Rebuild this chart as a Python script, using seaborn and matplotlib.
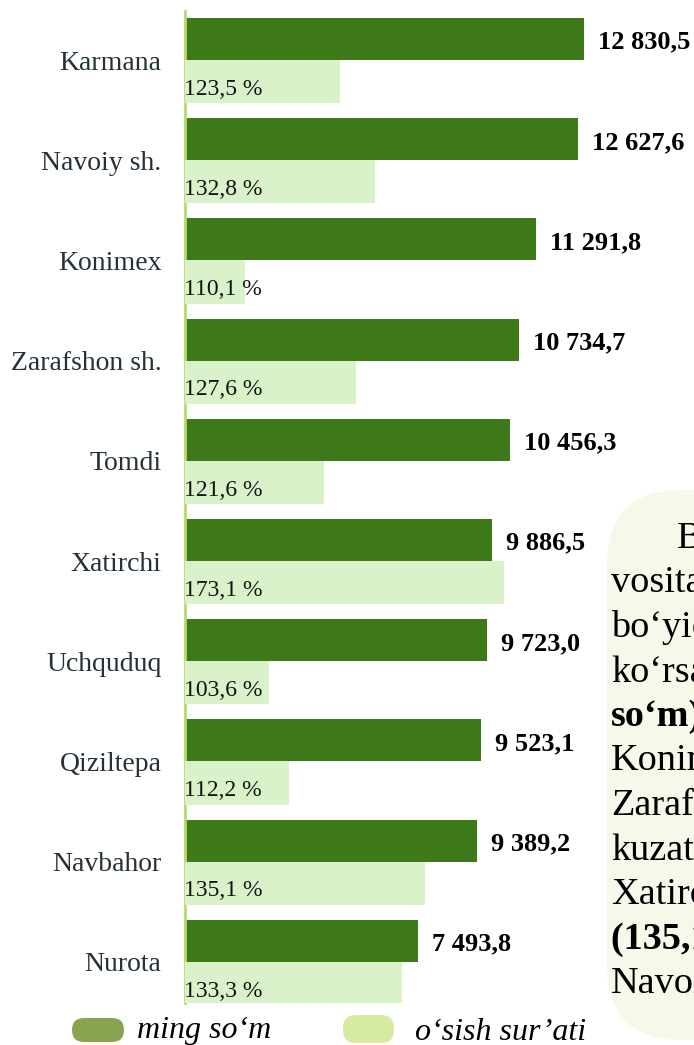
import numpy as np
import pandas as pd
import matplotlib
matplotlib.use('Agg')
import matplotlib.pyplot as plt
import seaborn as sns
from matplotlib.patches import FancyBboxPatch

# ---- data ----
regions = ['Karmana', 'Navoiy sh.', 'Konimex', 'Zarafshon sh.', 'Tomdi',
           'Xatirchi', 'Uchquduq', 'Qiziltepa', 'Navbahor', 'Nurota']
income = [12830.5, 12627.6, 11291.8, 10734.7, 10456.3,
          9886.5, 9723.0, 9523.1, 9389.2, 7493.8]
growth_pct = [123.5, 132.8, 110.1, 127.6, 121.6,
              173.1, 103.6, 112.2, 135.1, 133.3]
# light bar lengths as drawn in the picture, read on the % scale
growth_bar = [124.3, 134.3, 97.1, 128.9, 119.7,
              171.1, 104.0, 109.7, 148.6, 142.0]

legend_labels = ['ming so\u2018m', 'o\u2018sish sur\u2019ati']
note_lines = ['Bu', 'vositalari', 'bo\u2018yicha', 'ko\u2018rsatkich', 'so\u2018m)',
              'Konimex', 'Zarafshon', 'kuzatildi', 'Xatirchi', '(135,1 %)', 'Navoiy']
note_bold = [4, 9]

DARK = '#3f7a1a'
LIGHT = '#daf2ca'
AXLINE = '#b5dc6a'
LEG_DARK = '#88a44f'
LEG_LIGHT = '#d4eba0'
BOX = '#f5f9ea'

sns.set_style('white')
plt.rcParams['font.family'] = ['Liberation Serif', 'DejaVu Serif']

df = pd.DataFrame({'region': regions, 'income': income,
                   'pct': growth_pct, 'bar': growth_bar})
df['pos'] = np.arange(len(df))
df['pos_dark'] = df['pos'] - 0.21
df['pos_light'] = df['pos'] + 0.215

W, H = 694, 1045
fig = plt.figure(figsize=(W / 100, H / 100), dpi=100)
ax = fig.add_axes([185 / W, 1 - 1003 / H, 509 / W, 992 / H])

sns.barplot(data=df, x='income', y='pos_dark', orient='y', native_scale=True,
            width=0.42, color=DARK, saturation=1, errorbar=None,
            linewidth=0, ax=ax)
ax2 = ax.twiny()
sns.barplot(data=df, x='bar', y='pos_light', orient='y', native_scale=True,
            width=0.43, color=LIGHT, saturation=1, errorbar=None,
            linewidth=0, ax=ax2)

ax.set_xlim(0, 509 / 0.0311)
ax2.set_xlim(80, 80 + 509 / 3.5)
ax.set_ylim(9.41, -0.489)

ax.set_yticks(df['pos'], df['region'])
ax.tick_params(axis='y', length=0, pad=17, labelsize=20, labelcolor='#26323a')
ax.set_xticks([])
ax2.set_xticks([])
ax.set_xlabel('')
ax.set_ylabel('')
ax2.set_xlabel('')
ax2.set_ylabel('')
for s in ['top', 'right', 'bottom']:
    ax.spines[s].set_visible(False)
for s in ax2.spines.values():
    s.set_visible(False)
ax.spines['left'].set_color(AXLINE)
ax.spines['left'].set_linewidth(2)
ax.spines['left'].set_zorder(5)

# value labels
for r in df.itertuples():
    txt = f'{r.income:,.1f}'.replace(',', ' ').replace('.', ',')
    ax.annotate(txt, xy=(r.income, r.pos_dark), xytext=(10, -7),
                textcoords='offset points', ha='left', va='baseline',
                fontsize=19, fontweight='bold', color='black',
                annotation_clip=False)
    # growth labels sit on top of the light bars (twin axes)
    ax2.annotate(f'{r.pct:.1f} %'.replace('.', ','), xy=(0, r.pos_light),
                 xycoords=ax2.get_yaxis_transform(), xytext=(-0.5, -9.5),
                 textcoords='offset points', ha='left', va='baseline',
                 fontsize=17, color='#111111', zorder=6)

# overlay in pixel units for the side note and legend
ov = fig.add_axes([0, 0, 1, 1])
ov.set_xlim(0, W)
ov.set_ylim(H, 0)
ov.axis('off')

ov.add_patch(FancyBboxPatch((607, 490), 220, 550,
                            boxstyle='round,pad=0,rounding_size=75',
                            facecolor=BOX, edgecolor='none'))
for i, line in enumerate(note_lines):
    x = 677 if i == 0 else 611
    ov.text(x, 548 + 44.5 * i, line, ha='left', va='baseline', fontsize=27.5,
            fontweight='bold' if i in note_bold else 'normal', color='black')

# legend
ov.add_patch(FancyBboxPatch((72, 1018), 52, 24,
                            boxstyle='round,pad=0,rounding_size=12',
                            facecolor=LEG_DARK, edgecolor='none'))
ov.add_patch(FancyBboxPatch((343, 1015), 51, 28,
                            boxstyle='round,pad=0,rounding_size=13',
                            facecolor=LEG_LIGHT, edgecolor='none'))
ov.text(137, 1038, legend_labels[0], ha='left', va='baseline', fontsize=23,
        style='italic', color='black')
ov.text(415, 1040, legend_labels[1], ha='left', va='baseline', fontsize=23,
        style='italic', color='black')

plt.savefig('out.png', dpi=100)
plt.close()
print('saved')
